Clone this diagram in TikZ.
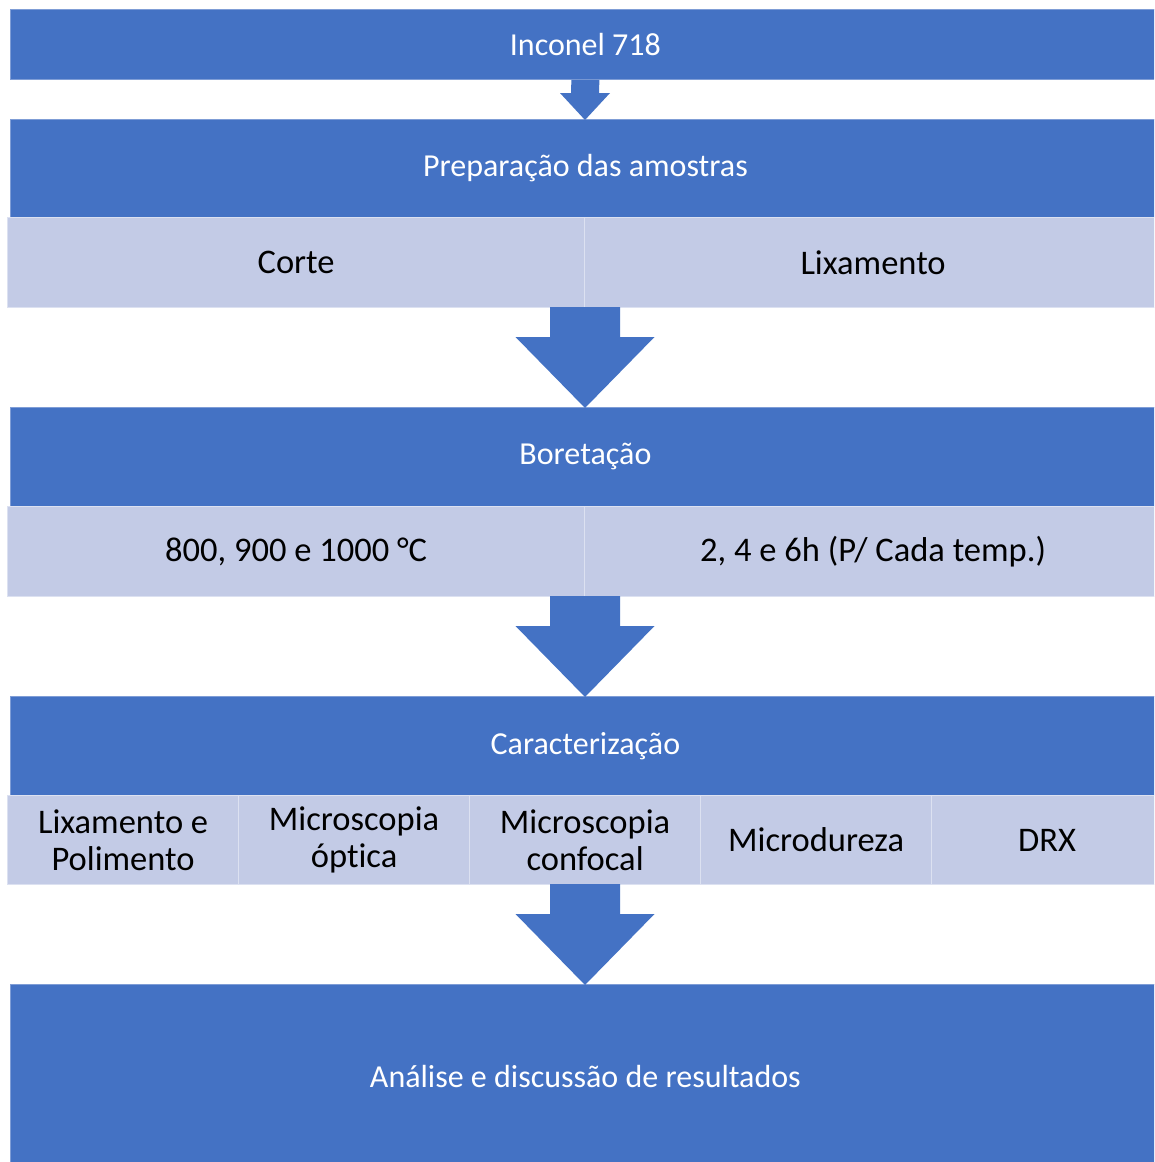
\documentclass[tikz,border=0pt]{standalone}
\usepackage{fontspec}
\setmainfont{Carlito}[Ligatures=NoCommon]
\usetikzlibrary{calc}
\definecolor{mainblue}{HTML}{4472C4}
\definecolor{blueedge}{HTML}{7F9DD6}
\definecolor{lightfill}{HTML}{C3CBE6}
\definecolor{lightedge}{HTML}{DCE1F1}
\tikzset{
  header/.style={anchor=north west, fill=mainblue, draw=blueedge, line width=0.8pt,
    minimum width=1150pt, inner sep=0pt, text=white,
    font=\fontsize{32}{38}\selectfont},
  cell/.style={anchor=north west, fill=lightfill, draw=lightedge, line width=1.2pt,
    inner sep=0pt, text=black, align=center,
    font=\fontsize{34.5}{37}\selectfont},
  flowarrow/.style={fill=mainblue, draw=none}
}
\begin{document}
\begin{tikzpicture}[x=1pt,y=-1pt]
\useasboundingbox (0,0) rectangle (1154,1162);
\fill[white] (0,0) rectangle (1154,1162);
\clip (0,0) rectangle (1154,1162);

% header boxes
\node[header, minimum height=70pt] (b1) at (10,9) {Inconel 718};
\node[header, minimum height=98pt] (b2) at (10,119) {Preparação das amostras};
\node[header, minimum height=99pt] (b3) at (10,407) {Boretação};
\node[header, minimum height=99pt] (b4) at (10,696) {Caracterização};
\node[header, minimum height=184pt] (b5) at (10,984) {Análise e discussão de resultados};

% row 1
\node[cell, minimum width=577pt, minimum height=90pt] (c11) at (7,217) {Corte};
\node[cell, minimum width=577pt, minimum height=90pt] (c12) at (584,217) {Lixamento};
% row 2
\node[cell, minimum width=577pt, minimum height=90pt] (c21) at (7,506) {800, 900 e 1000 °C};
\node[cell, minimum width=577pt, minimum height=90pt] (c22) at (584,506) {2, 4 e 6h (P/ Cada temp.)};
% row 3
\node[cell, minimum width=231pt, minimum height=89pt] (c31) at (7,795) {Lixamento e\\Polimento};
\node[cell, minimum width=231pt, minimum height=89pt] (c32) at (238,795) {Microscopia\\óptica};
\node[cell, minimum width=231pt, minimum height=89pt] (c33) at (469,795) {Microscopia\\confocal};
\node[cell, minimum width=231pt, minimum height=89pt] (c34) at (700,795) {Microdureza};
\node[cell, minimum width=231pt, minimum height=89pt] (c35) at (931,795) {DRX};

% small arrow b1 -> b2
\coordinate (t1) at (585,120);
\fill[flowarrow] ($(b1.south)+(-14,0)$) -- ($(b1.south)+(14,0)$) -- ($(t1)+(14,-27)$)
  -- ($(t1)+(25,-27)$) -- (t1) -- ($(t1)+(-25,-27)$) -- ($(t1)+(-14,-27)$) -- cycle;

% big arrows
\coordinate (t2) at (585,408);
\coordinate (t3) at (585,697);
\coordinate (t4) at (585,985);
\foreach \t/\s in {t2/307, t3/596, t4/884}{
  \fill[flowarrow] (550,\s) -- (620,\s) -- ($(\t)+(35,-71)$) -- ($(\t)+(69.5,-71)$) -- (\t)
    -- ($(\t)+(-69.5,-71)$) -- ($(\t)+(-35,-71)$) -- cycle;
}
\end{tikzpicture}
\end{document}
